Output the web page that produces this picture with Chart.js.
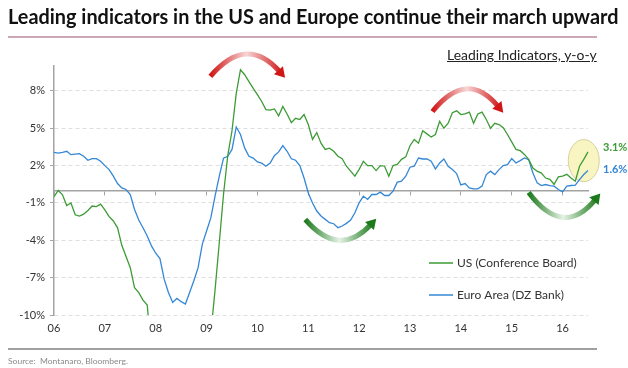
<!DOCTYPE html>
<html>
<head>
<meta charset="utf-8">
<script src="https://cdn.jsdelivr.net/npm/chart.js@4.4.1/dist/chart.umd.min.js"></script>
<style>
html, body { margin: 0; padding: 0; background: #fff; }
#wrap { position: relative; width: 628px; height: 368px; overflow: hidden; font-family: Lato, "Open Sans", sans-serif; }
#chart { position: absolute; left: 0; top: 0; }
.fit { position: absolute; white-space: nowrap; transform-origin: left top; }
#title { left: 8px; top: 4px; font-size: 20px; font-weight: bold; color: #111; }
#rule1 { position: absolute; left: 8px; top: 36px; width: 589px; height: 2px; background: #cda6b8; }
#subtitle { left: 447px; top: 47px; font-size: 13px; color: #222; text-decoration: underline; }
#rule2 { position: absolute; left: 8px; top: 348px; width: 589px; height: 2px; background: #a0a0a0; }
#source { left: 8px; top: 356px; font-size: 8px; color: #8a8a8a; }
</style>
</head>
<body>
<div id="wrap">
  <canvas id="chart" width="628" height="368"></canvas>
  <div id="title" class="fit">Leading indicators in the US and Europe continue their march upward</div>
  <div id="rule1"></div>
  <div id="subtitle" class="fit">Leading Indicators, y-o-y</div>
  <div id="rule2"></div>
  <div id="source" class="fit">Source:&nbsp; Montanaro, Bloomberg.</div>
</div>
<script>
// year tick labels and month names (Jan 2006 .. Jul 2016)
const yearLabels = ['06', '07', '08', '09', '10', '11', '12', '13', '14', '15', '16'];
const monthNames = ['Jan', 'Feb', 'Mar', 'Apr', 'May', 'Jun', 'Jul', 'Aug', 'Sep', 'Oct', 'Nov', 'Dec'];
const yTicks = [-10, -7, -4, -1, 2, 5, 8];

// US (Conference Board) leading index, y-o-y %
const usData = [
  -0.5, 0.0, -0.35, -1.2, -1.0, -1.95, -2.05, -1.9, -1.6, -1.25, -1.3, -1.1,
  -1.55, -2.1, -2.45, -3.0, -4.4, -5.3, -6.2, -7.8, -8.2, -8.8, -9.2, -13.0,
  -15.5, -17.0, -18.5, -20.0, -21.5, -22.5, -23.0, -23.5, -23.0, -22.0, -20.0, -17.5,
  -15.0, -11.5, -8.0, -4.2, -0.3, 2.8, 4.8, 7.8, 9.7, 9.3, 8.75, 8.2,
  7.7, 7.15, 6.5, 6.45, 6.55, 6.0, 6.75, 6.15, 5.45, 5.8, 5.7, 6.1,
  5.3, 4.1, 4.65, 3.8, 3.3, 3.4, 3.15, 2.75, 2.55, 1.95, 1.55, 1.15,
  1.7, 2.35, 2.0, 2.0, 1.6, 2.0, 1.95, 1.15, 2.0, 2.1, 2.5, 2.7,
  3.6, 4.1, 3.8, 4.8, 4.55, 4.3, 4.5, 5.55, 5.0, 5.4, 6.25, 6.4,
  6.1, 6.15, 6.3, 5.4, 6.15, 6.3, 5.7, 5.0, 5.4, 5.3, 5.05, 4.5,
  3.9, 3.3, 3.2, 2.9, 2.5, 1.8, 1.55, 1.4, 1.0, 0.9, 0.5, 1.1,
  1.15, 1.3, 1.0, 0.75, 1.95, 2.5, 3.1
];

// Euro Area (DZ Bank) leading index, y-o-y %
const euroData = [
  3.07, 3.0, 3.07, 3.15, 2.88, 2.93, 2.96, 2.75, 2.43, 2.56, 2.56, 2.35,
  2.0, 1.68, 1.15, 0.56, 0.21, 0.08, -0.32, -1.52, -2.37, -2.99, -3.65, -4.45,
  -5.04, -5.47, -7.12, -8.19, -8.99, -8.67, -8.93, -9.12, -8.2, -7.25, -6.2, -4.3,
  -3.25, -2.2, -0.45, 1.15, 2.6, 2.75, 3.3, 5.1, 4.5, 3.4, 2.75, 2.6,
  2.3, 2.2, 1.95, 2.2, 2.8, 3.1, 3.6, 3.15, 2.55, 2.43, 2.0, 1.0,
  -0.2, -1.0, -1.65, -2.05, -2.32, -2.59, -2.67, -2.99, -2.85, -2.64, -2.37, -1.79,
  -0.99, -0.45, -0.72, -0.32, -0.32, -0.13, -0.4, -0.4, -0.05, 0.67, 0.75, 1.15,
  1.87, 1.95, 2.61, 2.53, 2.53, 2.35, 1.73, 2.21, 2.53, 1.95, 1.68, 1.36,
  0.45, 0.56, 0.21, 0.13, 0.13, 0.35, 1.28, 1.55, 1.28, 1.68, 2.0, 2.08,
  2.56, 2.21, 2.4, 2.61, 2.48, 1.41, 0.61, 0.4, 0.48, 0.4, 0.35, 0.08,
  -0.11, 0.35, 0.4, 0.43, 0.88, 1.28, 1.6
];

const months = [];
yearLabels.forEach(y => monthNames.forEach(m => months.push(m + ' ' + y)));
months.length = usData.length;

const FONT = 'Lato, "Open Sans", sans-serif';
const GREEN = '#3d9b35';
const BLUE = '#3487d6';
const AXIS = '#a3a3a3';

// curved arrows, in (month index, %) units
const arrows = [
  { from: [36.9, 9.16], to: [53.9, 9.3], apex: 10.9, color: '#d01616', light: '#f7d6d6' },
  { from: [89.3, 6.35], to: [105.4, 6.5], apex: 8.1, color: '#d01616', light: '#f7d6d6' },
  { from: [59.3, -2.33], to: [75.4, -2.5], apex: -3.94, color: '#1c7a1c', light: '#e6f2e6' },
  { from: [112, -0.16], to: [128.3, -0.48], apex: -2.09, color: '#1c7a1c', light: '#e6f2e6' }
];

const decorations = {
  id: 'decorations',
  beforeDatasetsDraw(chart) {
    const { ctx, scales: { x, y } } = chart;
    // yellow highlight round the latest readings
    const cx = x.getPixelForValue(125), cy = y.getPixelForValue(2.4);
    const rx = Math.abs(x.getPixelForValue(128.66) - cx);
    const ry = Math.abs(y.getPixelForValue(4.09) - cy);
    ctx.save();
    ctx.beginPath();
    ctx.ellipse(cx, cy, rx, ry, 0, 0, Math.PI * 2);
    ctx.fillStyle = '#f9f5c2';
    ctx.fill();
    ctx.strokeStyle = '#d6cf9c';
    ctx.lineWidth = 1;
    ctx.stroke();
    ctx.restore();
  },
  afterDatasetsDraw(chart) {
    const { ctx, scales: { x, y } } = chart;
    ctx.save();
    // arrows
    arrows.forEach(a => {
      const x0 = x.getPixelForValue(a.from[0]), y0 = y.getPixelForValue(a.from[1]);
      const x1 = x.getPixelForValue(a.to[0]), y1 = y.getPixelForValue(a.to[1]);
      const ya = y.getPixelForValue(a.apex);
      const cxp = (x0 + x1) / 2, cyp = 2 * ya - (y0 + y1) / 2;
      let ux = x1 - cxp, uy = y1 - cyp;
      const len = Math.hypot(ux, uy); ux /= len; uy /= len;
      const g = ctx.createLinearGradient(x0, 0, x1, 0);
      g.addColorStop(0, a.color);
      g.addColorStop(0.5, a.light);
      g.addColorStop(1, a.color);
      ctx.beginPath();
      ctx.moveTo(x0, y0);
      ctx.quadraticCurveTo(cxp, cyp, x1 - ux * 4, y1 - uy * 4);
      ctx.strokeStyle = g;
      ctx.lineWidth = 5;
      ctx.lineCap = 'butt';
      ctx.stroke();
      const tipX = x1 + ux * 4, tipY = y1 + uy * 4;
      const bx = x1 - ux * 6, by = y1 - uy * 6;
      ctx.beginPath();
      ctx.moveTo(tipX, tipY);
      ctx.lineTo(bx - uy * 6, by + ux * 6);
      ctx.lineTo(bx + uy * 6, by - ux * 6);
      ctx.closePath();
      ctx.fillStyle = a.color;
      ctx.fill();
    });
    // end-of-series value labels
    ctx.font = 'bold 11px ' + FONT;
    ctx.textBaseline = 'middle';
    chart.data.datasets.forEach((ds, i) => {
      const pts = chart.getDatasetMeta(i).data;
      const p = pts[pts.length - 1];
      const v = ds.data[ds.data.length - 1];
      ctx.fillStyle = ds.borderColor;
      ctx.fillText(v.toFixed(1) + '%', p.x + 15, p.y + ds.labelShift);
    });
    // legend
    ctx.font = '12px ' + FONT;
    chart.data.datasets.forEach((ds, i) => {
      const ly = 263 + i * 32;
      ctx.beginPath();
      ctx.moveTo(429, ly);
      ctx.lineTo(453, ly);
      ctx.strokeStyle = ds.borderColor;
      ctx.lineWidth = 1.5;
      ctx.stroke();
      ctx.fillStyle = '#333';
      ctx.fillText(ds.label, 457, ly);
    });
    ctx.restore();
  }
};

new Chart(document.getElementById('chart'), {
  type: 'line',
  data: {
    labels: months,
    datasets: [
      { label: 'US (Conference Board)', data: usData, borderColor: GREEN, borderWidth: 1.3, pointRadius: 0, labelShift: -4 },
      { label: 'Euro Area (DZ Bank)', data: euroData, borderColor: BLUE, borderWidth: 1.3, pointRadius: 0, labelShift: -1 }
    ]
  },
  options: {
    responsive: false,
    animation: false,
    layout: { padding: { top: 66, right: 40, left: 0, bottom: 0 } },
    plugins: { legend: { display: false }, tooltip: { enabled: false } },
    scales: {
      x: {
        type: 'category',
        position: 'bottom',
        grid: { display: false, drawTicks: false },
        border: { display: false },
        ticks: {
          autoSkip: false, maxRotation: 0, padding: 7, color: '#333',
          font: { family: FONT, size: 11 },
          callback: (v, i) => i % 12 === 0 ? yearLabels[i / 12] : null
        },
        afterFit: s => { s.height = 53; }
      },
      x0: {
        type: 'category',
        position: { y: 0 },
        grid: {
          drawOnChartArea: false, drawTicks: true, tickLength: 4,
          color: c => c.index % 12 === 0 ? AXIS : 'rgba(0,0,0,0)'
        },
        border: { display: true, color: AXIS, width: 1.5 },
        ticks: { display: false }
      },
      y: {
        min: -10, max: 10,
        afterBuildTicks: s => { s.ticks = yTicks.map(v => ({ value: v })); },
        grid: { color: '#dedede', lineWidth: 1, tickColor: AXIS, tickLength: 4 },
        border: { color: AXIS, width: 1.5, dash: [4, 3] },
        ticks: { padding: 5, color: '#333', font: { family: FONT, size: 11 }, callback: v => v + '%' },
        afterFit: s => { s.width = 54; }
      }
    }
  },
  plugins: [decorations]
});

// squeeze the html texts to the widths in the reference
function fit(id, w) {
  const el = document.getElementById(id);
  el.style.transform = 'scaleX(' + (w / el.scrollWidth) + ')';
}
fit('title', 610);
fit('subtitle', 150);
fit('source', 120);
</script>
</body>
</html>
